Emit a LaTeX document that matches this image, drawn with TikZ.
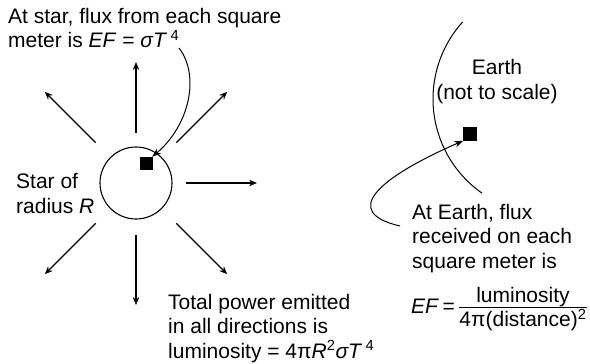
\documentclass[tikz,border=0pt]{standalone}
\usepackage{fontspec}
\usepackage{amsmath}
\setmainfont{Liberation Sans}
\usetikzlibrary{arrows.meta}
\tikzset{
  skytext/.style={align=left, inner sep=0pt, anchor=base west},
  patch/.style={draw=black, fill=black, minimum size=12pt, inner sep=0pt},
  ray/.style={-{Stealth[length=8pt, width=6.5pt]}, line width=1.1pt},
  callout/.style={-{Stealth[length=9pt, width=6.5pt]}, line width=1pt}
}

\begin{document}
\begin{tikzpicture}[x=1pt, y=-1pt, font=\fontsize{21}{24.5}\selectfont]
  \useasboundingbox (0,0) rectangle (590,364);
  % star and what it sends out
  \node[draw, circle, line width=1.1pt, minimum size=72pt, inner sep=0pt] (star) at (136,183) {};
  \node[patch] (starpatch) at (146,163) {};
  \foreach \a/\ra/\rb in {0/50/121, 90/52/122, 270/50/121, 45/57/129, 135/57/129, 225/57/129, 315/57/129}
    \draw[ray] (star.center) ++(\a:\ra) -- ++(\a:\rb-\ra);
  % earth, drawn as a piece of its rim
  \draw[line width=1pt] (548,99) ++(222:115) arc[start angle=138, end angle=235, radius=115pt];
  \node[patch, minimum size=13pt] (earthpatch) at (470,134) {};
  % texts (base = last line)
  \node[skytext] (starnote) at (8,48) {At star, flux from each square\\meter is \textit{EF} = \textit{σT}\,\textsuperscript{4}};
  \node[skytext] (starlabel) at (16,213) {Star of\\radius \textit{R}};
  \node[skytext] (powernote) at (168,358) {Total power emitted\\in all directions is\\luminosity = 4π\textit{R}\textsuperscript{2}\textit{σT}\,\textsuperscript{4}};
  \node[align=center, inner sep=0pt, anchor=base] (earthlabel) at (497,99) {Earth\\(not to scale)};
  \node[skytext] (earthnote) at (412,268) {At Earth, flux\\received on each\\square meter is};
  \node[skytext] (earthformula) at (411,313) {\textit{EF}\,=\,$\frac{\mbox{luminosity}}{\mbox{4π(distance)\textsuperscript{2}}}$};
  % callouts
  \coordinate (starnote tail) at (179,48);
  \coordinate (earthnote tail) at (400,226);
  \draw[callout] (starnote tail) .. controls (200,75) and (190,125) .. (starpatch.north east);
  \draw[callout] (earthnote tail) .. controls (340,212) and (378,178) .. (earthpatch.south west);
\end{tikzpicture}
\end{document}
